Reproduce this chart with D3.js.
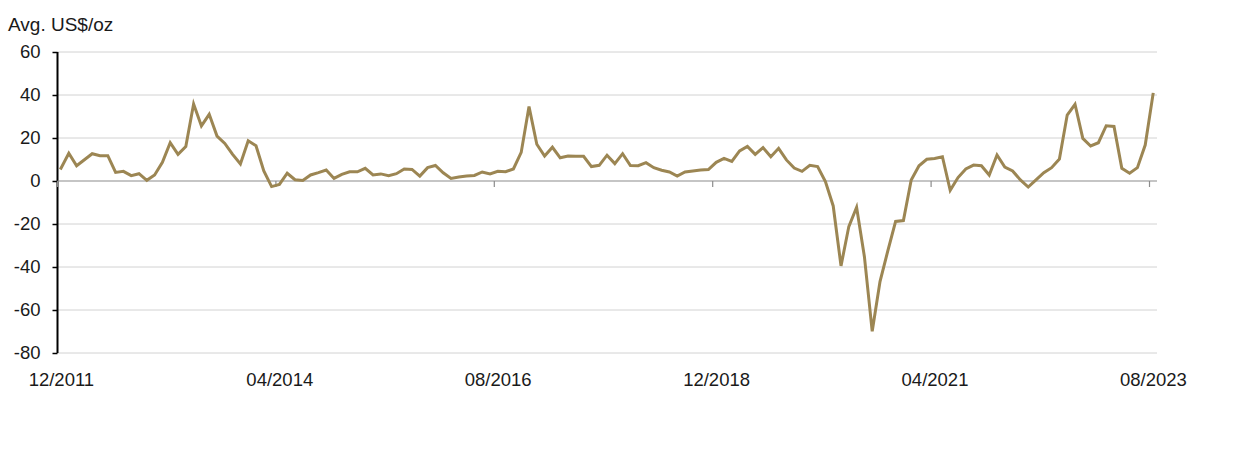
<!DOCTYPE html>
<html>
<head>
<meta charset="utf-8">
<script src="https://cdn.jsdelivr.net/npm/d3@7"></script>
<style>
  html, body { margin: 0; padding: 0; background: #ffffff; }
  svg { display: block; font-family: "Liberation Sans", Arial, Helvetica, sans-serif; }
</style>
</head>
<body>
<svg id="chart" width="1240" height="457"></svg>
<script>
// ---- data (monthly, 12/2011 .. 08/2023) ----
const startMonth = "2011-12";
const values = [
  6.0, 12.9, 7.1, 9.9, 12.7, 11.8, 11.8, 4.0, 4.5, 2.5,
  3.4, 0.3, 2.8, 8.7, 17.8, 12.4, 16.0, 35.8, 25.6, 31.0,
  20.9, 17.5, 12.4, 7.9, 18.7, 16.4, 4.7, -2.6, -1.6, 3.6,
  0.6, 0.2, 2.8, 3.9, 5.1, 1.2, 3.1, 4.3, 4.3, 5.9,
  2.8, 3.3, 2.5, 3.4, 5.6, 5.4, 2.3, 6.2, 7.2, 3.8,
  1.2, 1.9, 2.3, 2.6, 4.2, 3.3, 4.5, 4.3, 5.6, 13.3,
  34.6, 17.1, 11.6, 15.7, 10.8, 11.6, 11.5, 11.5, 6.7, 7.3,
  12.0, 8.1, 12.7, 7.2, 7.1, 8.5, 6.2, 5.0, 4.2, 2.3,
  4.2, 4.7, 5.1, 5.3, 8.7, 10.5, 9.1, 14.0, 16.1, 12.4,
  15.5, 11.3, 15.2, 9.8, 6.0, 4.5, 7.3, 6.7, -0.3, -11.6,
  -39.5, -21.2, -12.2, -35.2, -69.9, -46.8, -32.5, -18.8, -18.4, 0.5,
  7.1, 10.1, 10.5, 11.3, -4.3, 1.6, 5.6, 7.4, 7.1, 2.8,
  12.1, 6.5, 4.7, 0.5, -2.8, 0.5, 3.9, 6.2, 10.2, 30.7,
  35.7, 19.8, 16.3, 17.8, 25.7, 25.4, 5.9, 3.6, 6.2, 16.7,
  40.3
];
const xTickLabels = ["12/2011", "04/2014", "08/2016", "12/2018", "04/2021", "08/2023"];
const yTicks = [60, 40, 20, 0, -20, -40, -60, -80];
const unitLabel = "Avg. US$/oz";

// category months derived from start month
const months = values.map((v, i) => {
  const d = new Date(Date.UTC(2011, 11 + i, 1));
  return d3.utcFormat("%m/%Y")(d);
});

// ---- layout ----
const svg = d3.select("#chart");
const plotLeft = 57.5, plotRight = 1149.5, gridRight = 1157;
const yTop = 52, yBottom = 353;

const x = d3.scaleLinear().domain([0, months.length - 1]).range([plotLeft, plotRight]);
const y = d3.scaleLinear().domain([-80, 60]).range([yBottom, yTop]);

// gridlines
svg.append("g")
  .selectAll("line")
  .data(yTicks.filter(t => t !== 0))
  .join("line")
  .attr("x1", plotLeft).attr("x2", gridRight)
  .attr("y1", d => y(d)).attr("y2", d => y(d))
  .attr("stroke", "#d2d2d2").attr("stroke-width", 1);

// y axis
const yAxis = svg.append("g")
  .attr("transform", `translate(${plotLeft},0)`)
  .call(d3.axisLeft(y).tickValues(yTicks).tickSize(5).tickPadding(12).tickFormat(d => String(d)));
yAxis.select(".domain").attr("stroke", "#000").attr("stroke-width", 2)
  .attr("d", `M0,${yTop}V${yBottom}`);
yAxis.selectAll(".tick line").attr("stroke", "#000").attr("stroke-width", 1.5);
yAxis.selectAll(".tick text")
  .attr("font-size", 18.5).attr("fill", "#1a1a1a")
  .attr("font-family", "Liberation Sans, Arial, sans-serif");

// zero line with x ticks
const xTickIdx = xTickLabels.map(l => months.indexOf(l));
svg.append("line")
  .attr("x1", plotLeft).attr("x2", gridRight)
  .attr("y1", y(0)).attr("y2", y(0))
  .attr("stroke", "#8c8c8c").attr("stroke-width", 1.2);
svg.append("g")
  .selectAll("line")
  .data(xTickIdx)
  .join("line")
  .attr("x1", d => x(d)).attr("x2", d => x(d))
  .attr("y1", y(0)).attr("y2", y(0) + 6)
  .attr("stroke", "#8c8c8c").attr("stroke-width", 1.2);

// x labels at bottom, centred on the month's mid point
svg.append("g")
  .selectAll("text")
  .data(xTickIdx)
  .join("text")
  .attr("x", d => x(d + 0.5))
  .attr("y", 386)
  .attr("text-anchor", "middle")
  .attr("font-size", 18.5)
  .attr("fill", "#1a1a1a")
  .text(d => months[d]);

// unit label
svg.append("text")
  .attr("x", 8).attr("y", 31)
  .attr("font-size", 19).attr("fill", "#1a1a1a")
  .text(unitLabel);

// line
const line = d3.line()
  .x((d, i) => x(i + 0.45))
  .y(d => y(d));
svg.append("path")
  .datum(values)
  .attr("d", line)
  .attr("fill", "none")
  .attr("stroke", "#9c8653")
  .attr("stroke-width", 3)
  .attr("stroke-linejoin", "miter")
  .attr("stroke-linecap", "square");
</script>
</body>
</html>
